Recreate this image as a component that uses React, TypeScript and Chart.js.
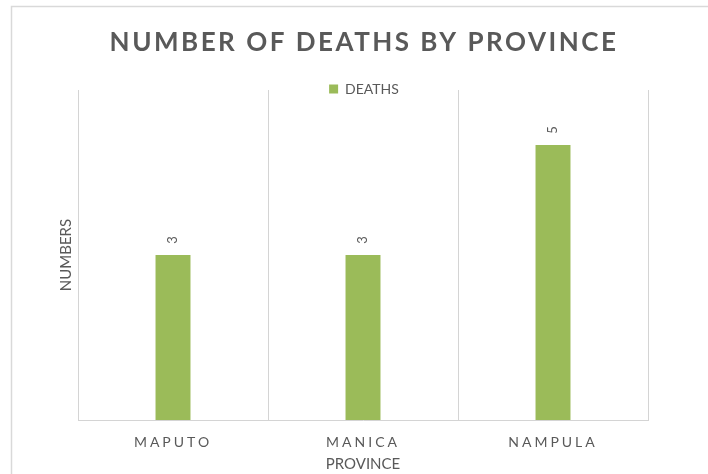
import React, { useEffect, useRef } from "react";
import { Chart, registerables } from "chart.js";

Chart.register(...registerables);

const CATEGORIES: string[] = ["MAPUTO", "MANICA", "NAMPULA"];
const DEATHS: number[] = [3, 3, 5];
const SERIES_LABEL = "DEATHS";
const CHART_TITLE = "NUMBER OF DEATHS BY PROVINCE";
const X_TITLE = "PROVINCE";
const Y_TITLE = "NUMBERS";
const Y_MIN = 0;
const Y_MAX = 6;

const TEXT = "#595959";
const GRID = "#d4d4d4";
const BAR = "#9BBB59";
const FONT = "Lato";

const borderPlugin = {
  id: "outerBorder",
  beforeDraw(chart: any) {
    const ctx = chart.ctx;
    ctx.save();
    ctx.strokeStyle = "#d9d9d9";
    ctx.lineWidth = 1.5;
    ctx.strokeRect(11.5, 6.5, 900, 900);
    ctx.restore();
  },
};

const spacingPlugin = {
  id: "letterSpacing",
  beforeDraw(chart: any) {
    const t = chart.titleBlock;
    if (t && !t.__spaced) {
      const orig = t.draw;
      t.draw = function (...a: any[]) {
        const ctx = this.ctx;
        ctx.save();
        ctx.letterSpacing = "2.5px";
        orig.apply(this, a);
        ctx.restore();
      };
      t.__spaced = true;
    }
    const x = chart.scales.x;
    if (x && !x.__spaced) {
      const orig = x.drawLabels;
      x.drawLabels = function (...a: any[]) {
        const ctx = this.ctx;
        ctx.save();
        ctx.letterSpacing = "3px";
        orig.apply(this, a);
        ctx.restore();
      };
      x.__spaced = true;
    }
  },
};

const LEGEND_SHRINK = 16;
const legendFitPlugin = {
  id: "legendFit",
  beforeInit(chart: any) {
    const lg = chart.legend;
    if (!lg) return;
    const origFit = lg.fit;
    lg.fit = function () {
      origFit.call(lg);
      this.height -= LEGEND_SHRINK;
    };
    const origDraw = lg.draw;
    lg.draw = function (...a: any[]) {
      const b = this.bottom;
      this.bottom = b + LEGEND_SHRINK;
      origDraw.apply(this, a);
      this.bottom = b;
    };
  },
};

const valueLabelPlugin = {
  id: "valueLabels",
  afterDatasetsDraw(chart: any) {
    const ctx = chart.ctx;
    const meta = chart.getDatasetMeta(0);
    const data = chart.data.datasets[0].data;
    ctx.save();
    ctx.font = `13px ${FONT}`;
    ctx.fillStyle = TEXT;
    ctx.textAlign = "center";
    ctx.textBaseline = "middle";
    meta.data.forEach((bar: any, i: number) => {
      const p = bar.getProps(["x", "y"], true);
      ctx.save();
      ctx.translate(p.x, p.y - 15);
      ctx.rotate(-Math.PI / 2);
      ctx.fillText(String(data[i]), 0, 0);
      ctx.restore();
    });
    ctx.restore();
  },
};

export default function App() {
  const ref = useRef<HTMLCanvasElement | null>(null);

  useEffect(() => {
    if (!ref.current) return;
    const chart = new Chart(ref.current, {
      type: "bar",
      data: {
        labels: CATEGORIES,
        datasets: [
          {
            label: SERIES_LABEL,
            data: DEATHS,
            backgroundColor: BAR,
            borderWidth: 0,
            barPercentage: 0.184,
            categoryPercentage: 1,
          },
        ],
      },
      options: {
        responsive: false,
        animation: false,
        devicePixelRatio: 1,
        layout: { padding: { left: 20, right: 0, top: 0, bottom: 0 } },
        plugins: {
          tooltip: { enabled: false },
          title: {
            display: true,
            text: CHART_TITLE,
            color: TEXT,
            font: { family: FONT, size: 26, weight: "bold" },
            padding: { top: 27, bottom: 13.8 },
          },
          legend: {
            display: true,
            position: "top",
            align: "center",
            labels: {
              boxWidth: 9,
              boxHeight: 9,
              color: TEXT,
              font: { family: FONT, size: 14 },
              padding: 10,
            },
          },
        },
        scales: {
          x: {
            type: "category",
            grid: { display: true, color: GRID, drawTicks: false, offset: true },
            border: { display: true, color: GRID },
            ticks: { color: TEXT, font: { family: FONT, size: 14 }, padding: 14 },
            title: {
              display: true,
              text: X_TITLE,
              color: TEXT,
              font: { family: FONT, size: 15 },
              padding: { top: 0, bottom: 1 },
            },
            afterFit: (s: any) => {
              s.height = 54;
            },
          },
          y: {
            type: "linear",
            position: "left",
            min: Y_MIN,
            max: Y_MAX,
            grid: { display: false },
            border: { display: false },
            ticks: { display: false },
            title: {
              display: true,
              text: Y_TITLE,
              color: TEXT,
              font: { family: FONT, size: 15 },
              padding: { top: 37, bottom: 0 },
            },
            afterFit: (s: any) => {
              s.width = 58;
            },
          },
          y2: {
            type: "linear",
            position: "right",
            display: true,
            grid: { display: false },
            border: { display: false },
            ticks: { display: false },
            afterFit: (s: any) => {
              s.width = 60;
            },
          },
        },
      } as any,
      plugins: [borderPlugin, spacingPlugin, legendFitPlugin, valueLabelPlugin],
    });
    return () => chart.destroy();
  }, []);

  return (
    <div style={{ position: "absolute", left: 0, top: 0, width: 708, height: 474, background: "#fff" }}>
      <canvas ref={ref} width={708} height={474} />
    </div>
  );
}
